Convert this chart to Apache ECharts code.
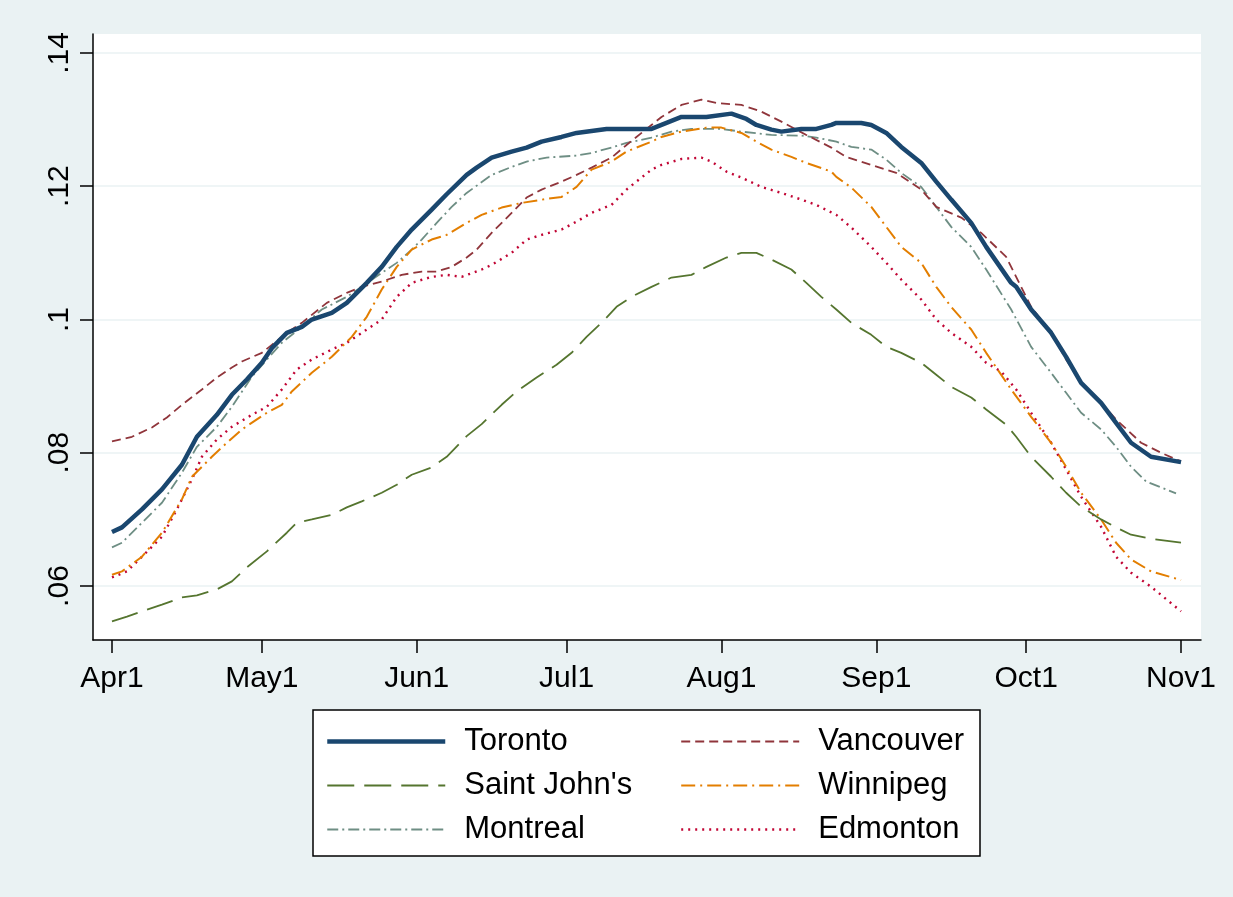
<!DOCTYPE html>
<html>
<head>
<meta charset="utf-8">
<script src="https://cdn.jsdelivr.net/npm/echarts@6/dist/echarts.min.js"></script>
<style>
html,body{margin:0;padding:0;background:#EAF2F3;}
#chart{width:1233px;height:897px;}
</style>
</head>
<body>
<div id="chart"></div>
<script>
// x = days since Apr 1
const xTickDays = [0, 30, 61, 91, 122, 153, 183, 214];
const xTickLabels = ['Apr1', 'May1', 'Jun1', 'Jul1', 'Aug1', 'Sep1', 'Oct1', 'Nov1'];
const yTickValues = [0.06, 0.08, 0.10, 0.12, 0.14];
const yTickLabels = ['.06', '.08', '.1', '.12', '.14'];
const seriesNames = ['Toronto', 'Vancouver', "Saint John's", 'Winnipeg', 'Montreal', 'Edmonton'];

const toronto = [[0,0.0681],[2,0.0688],[6,0.0715],[10,0.0745],[14,0.0782],[17,0.0824],[21,0.0857],[24,0.0887],[27,0.0910],[30,0.0935],[32,0.0957],[35,0.0980],[38,0.0989],[40,0.1000],[44,0.1010],[47,0.1025],[51,0.1055],[54,0.1079],[57,0.1109],[60,0.1135],[64,0.1165],[67,0.1188],[71,0.1217],[73,0.1228],[76,0.1243],[80,0.1252],[83,0.1258],[86,0.1267],[90,0.1274],[93,0.1280],[99,0.1286],[108,0.1286],[110,0.1292],[114,0.1304],[119,0.1304],[124,0.1309],[127,0.1301],[129,0.1292],[132,0.1285],[134,0.1282],[138,0.1286],[141,0.1286],[144,0.1292],[145,0.1295],[150,0.1295],[152,0.1292],[155,0.1280],[158,0.1259],[162,0.1235],[165,0.1207],[168,0.1180],[172,0.1145],[175,0.1109],[180,0.1055],[181,0.1049],[184,0.1015],[188,0.0980],[191,0.0944],[194,0.0905],[198,0.0875],[201,0.0845],[204,0.0815],[208,0.0794],[214,0.0786]];
const vancouver = [[0,0.0817],[4,0.0824],[8,0.0838],[11,0.0853],[14,0.0872],[18,0.0895],[21,0.0913],[24,0.0928],[26,0.0937],[30,0.0950],[32,0.0962],[35,0.0980],[38,0.0995],[43,0.1025],[47,0.1040],[50,0.1049],[54,0.1057],[58,0.1067],[62,0.1072],[65,0.1072],[68,0.1079],[71,0.1093],[73,0.1105],[76,0.1130],[80,0.1160],[83,0.1183],[86,0.1195],[90,0.1207],[93,0.1217],[96,0.1228],[100,0.1243],[103,0.1262],[108,0.1292],[110,0.1304],[114,0.1322],[118,0.1330],[121,0.1325],[126,0.1322],[130,0.1312],[134,0.1297],[139,0.1277],[144,0.1258],[147,0.1244],[152,0.1232],[157,0.1220],[162,0.1195],[165,0.1169],[170,0.1153],[174,0.1130],[179,0.1094],[181,0.1064],[184,0.1019],[188,0.0980],[191,0.0940],[194,0.0905],[198,0.0875],[201,0.0850],[206,0.0815],[210,0.0800],[214,0.0787]];
const saintJohns = [[0,0.0547],[3,0.0554],[6,0.0562],[10,0.0572],[14,0.0583],[17,0.0586],[21,0.0595],[24,0.0607],[27,0.0628],[31,0.0652],[35,0.0680],[37,0.0695],[40,0.0700],[44,0.0707],[47,0.0718],[50,0.0727],[54,0.0740],[57,0.0752],[60,0.0767],[64,0.0778],[67,0.0794],[71,0.0825],[74,0.0843],[78,0.0872],[81,0.0892],[85,0.0913],[89,0.0932],[92,0.0950],[95,0.0974],[98,0.0995],[101,0.1019],[104,0.1034],[108,0.1049],[112,0.1063],[116,0.1067],[119,0.1079],[123,0.1093],[126,0.1100],[129,0.1100],[132,0.1090],[136,0.1075],[139,0.1055],[142,0.1034],[145,0.1015],[148,0.0995],[152,0.0977],[155,0.0959],[158,0.0950],[162,0.0935],[165,0.0917],[168,0.0899],[172,0.0883],[175,0.0865],[179,0.0842],[181,0.0824],[184,0.0794],[188,0.0764],[191,0.0740],[194,0.0719],[198,0.0700],[201,0.0688],[204,0.0677],[208,0.0671],[214,0.0665]];
const winnipeg = [[0,0.0617],[2,0.0622],[6,0.0644],[10,0.0680],[14,0.0730],[16,0.0764],[20,0.0794],[23,0.0815],[26,0.0835],[31,0.0860],[34,0.0872],[36,0.0892],[40,0.0920],[44,0.0944],[48,0.0974],[51,0.1004],[54,0.1045],[57,0.1079],[60,0.1105],[64,0.1120],[67,0.1127],[71,0.1145],[74,0.1157],[78,0.1168],[82,0.1175],[87,0.1181],[90,0.1184],[93,0.1199],[96,0.1225],[100,0.1237],[103,0.1252],[108,0.1267],[110,0.1274],[114,0.1282],[119,0.1288],[122,0.1288],[126,0.1280],[129,0.1267],[132,0.1255],[136,0.1244],[139,0.1235],[144,0.1222],[145,0.1214],[148,0.1198],[152,0.1169],[155,0.1139],[158,0.1109],[162,0.1085],[165,0.1049],[168,0.1019],[172,0.0985],[175,0.0950],[180,0.0895],[184,0.0854],[188,0.0815],[191,0.0779],[194,0.0740],[198,0.0700],[201,0.0665],[204,0.0640],[208,0.0622],[214,0.0609]];
const montreal = [[0,0.0658],[2,0.0665],[6,0.0695],[10,0.0725],[14,0.0770],[17,0.0809],[21,0.0839],[24,0.0869],[28,0.0914],[31,0.0940],[34,0.0965],[38,0.0989],[42,0.1015],[47,0.1034],[50,0.1049],[54,0.1070],[57,0.1085],[60,0.1105],[62,0.1120],[65,0.1145],[68,0.1169],[71,0.1190],[76,0.1217],[80,0.1229],[83,0.1237],[87,0.1243],[93,0.1246],[96,0.1250],[100,0.1258],[103,0.1265],[108,0.1273],[112,0.1282],[116,0.1286],[122,0.1286],[126,0.1282],[132,0.1277],[138,0.1276],[141,0.1273],[145,0.1267],[148,0.1259],[152,0.1255],[155,0.1240],[158,0.1220],[162,0.1199],[165,0.1169],[168,0.1139],[172,0.1109],[175,0.1075],[180,0.1015],[184,0.0959],[188,0.0920],[191,0.0890],[194,0.0860],[198,0.0835],[201,0.0809],[204,0.0779],[207,0.0757],[213,0.0739]];
const edmonton = [[0,0.0613],[3,0.0622],[6,0.0644],[10,0.0674],[13,0.0715],[16,0.0760],[18,0.0794],[21,0.0820],[24,0.0839],[28,0.0857],[31,0.0869],[34,0.0895],[37,0.0925],[40,0.0940],[44,0.0955],[47,0.0965],[50,0.0980],[54,0.1000],[57,0.1034],[60,0.1055],[64,0.1064],[67,0.1067],[70,0.1064],[74,0.1075],[76,0.1082],[80,0.1100],[83,0.1120],[86,0.1127],[90,0.1135],[93,0.1147],[96,0.1160],[100,0.1172],[103,0.1195],[108,0.1225],[110,0.1232],[114,0.1241],[118,0.1243],[120,0.1237],[123,0.1222],[126,0.1213],[130,0.1199],[134,0.1190],[138,0.1180],[141,0.1172],[145,0.1157],[148,0.1138],[152,0.1109],[155,0.1085],[158,0.1060],[162,0.1030],[165,0.1000],[168,0.0980],[172,0.0959],[175,0.0935],[178,0.0922],[181,0.0895],[184,0.0860],[188,0.0815],[191,0.0775],[194,0.0734],[198,0.0689],[201,0.0644],[204,0.0620],[208,0.0599],[214,0.0562]];

const seriesData = [toronto, vancouver, saintJohns, winnipeg, montreal, edmonton];
const seriesColors = ['#1A476F', '#90353B', '#55752F', '#E37E00', '#6E8E84', '#C10534'];
const seriesWidths = [4.5, 1.8, 1.8, 2, 1.8, 2.4];
const seriesDashes = ['solid', [9, 5], [27, 10], [14, 5, 2, 5], [11, 4, 2, 4], [2, 5]];

const FONT = '"Liberation Sans", Arial, sans-serif';
const chart = echarts.init(document.getElementById('chart'), null, {renderer: 'canvas'});

const series = seriesNames.map((name, i) => ({
  name: name,
  type: 'line',
  data: seriesData[i],
  showSymbol: false,
  symbol: 'none',
  smooth: false,
  z: 10 - i,
  lineStyle: {color: seriesColors[i], width: seriesWidths[i], type: seriesDashes[i], cap: 'butt'},
  itemStyle: {color: seriesColors[i]},
  emphasis: {disabled: true}
}));

const legendCommon = {
  orient: 'vertical',
  padding: 0,
  itemWidth: 118,
  itemHeight: 30,
  itemGap: 13,
  itemStyle: {opacity: 0},
  lineStyle: {width: 'inherit', type: 'inherit', color: 'inherit'},
  textStyle: {fontSize: 31, fontFamily: FONT, color: '#000', padding: [0, 0, 0, 14], lineHeight: 30},
  selectedMode: false,
  inactiveColor: '#000'
};

chart.setOption({
  backgroundColor: '#EAF2F3',
  animation: false,
  grid: {left: 93, top: 34, right: 32, bottom: 257, show: true, backgroundColor: '#FFFFFF', borderWidth: 0},
  xAxis: {
    type: 'value',
    min: -3.8,
    max: 218,
    axisLine: {show: true, onZero: false, lineStyle: {color: '#000', width: 1.5}},
    axisTick: {show: true, length: 13, lineStyle: {color: '#000', width: 1.5}, customValues: xTickDays},
    axisLabel: {
      show: true, customValues: xTickDays, margin: 24,
      fontSize: 30, fontFamily: FONT, color: '#000',
      formatter: v => { const k = xTickDays.indexOf(Math.round(v)); return k >= 0 ? xTickLabels[k] : ''; }
    },
    splitLine: {show: false}
  },
  yAxis: {
    type: 'value',
    min: 0.0519,
    max: 0.14285,
    axisLine: {show: true, onZero: false, lineStyle: {color: '#000', width: 1.5}},
    axisTick: {show: true, length: 13, lineStyle: {color: '#000', width: 1.5}, customValues: yTickValues},
    axisLabel: {
      show: true, customValues: yTickValues, rotate: 90, margin: 18,
      fontSize: 30, fontFamily: FONT, color: '#000',
      formatter: v => { let k = -1; yTickValues.forEach((t, j) => { if (Math.abs(t - v) < 1e-6) k = j; }); return k >= 0 ? yTickLabels[k] : ''; }
    },
    splitLine: {show: true, lineStyle: {color: '#EAF2F3', width: 1.5}}
  },
  graphic: [{
    type: 'rect',
    shape: {x: 313, y: 710, width: 667, height: 146},
    style: {fill: '#FFFFFF', stroke: '#000', lineWidth: 1.5},
    z: -1,
    silent: true
  }],
  legend: [
    Object.assign({}, legendCommon, {left: 325, top: 726, data: ['Toronto', "Saint John's", 'Montreal']}),
    Object.assign({}, legendCommon, {left: 680, top: 726, data: ['Vancouver', 'Winnipeg', 'Edmonton']})
  ],
  series: series
});
</script>
</body>
</html>
